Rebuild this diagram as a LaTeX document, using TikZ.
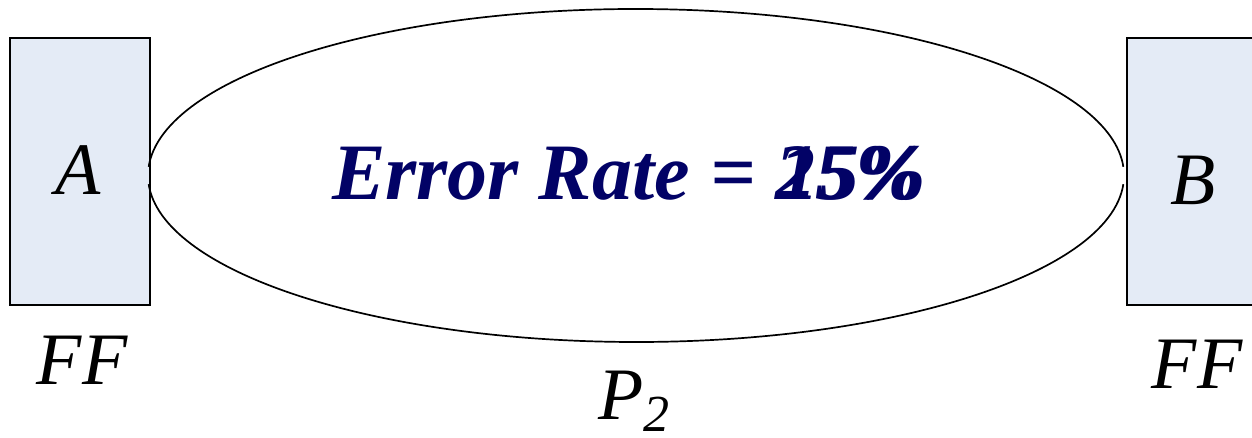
\documentclass[tikz,border=0pt]{standalone}
\usepackage{fontspec}
\setmainfont{Liberation Serif}
\begin{document}
\begin{tikzpicture}[x=1pt,y=-1pt,
  ffbox/.style={draw=black,line width=1.6pt,fill=boxfill,rectangle,minimum width=140pt,minimum height=267pt,inner sep=0pt},
  lbl/.style={anchor=base,inner sep=0pt,font=\itshape\fontsize{74}{80}\selectfont},
  err/.style={anchor=base west,inner sep=0pt,text=navyt,font=\bfseries\itshape\fontsize{80}{84}\selectfont}]
\definecolor{boxfill}{RGB}{228,235,246}
\definecolor{navyt}{RGB}{2,2,102}
\useasboundingbox (0,0) rectangle (1252,438);
\node[ffbox] (boxA) at (80,171.5) {};
\node[ffbox] (boxB) at (1197,171.5) {};
\draw[line width=1.7pt] (636,175.5) ++(3:488 and 166.5) arc[start angle=3,end angle=177,x radius=488,y radius=166.5];
\draw[line width=1.7pt] (636,175.5) ++(183:488 and 166.5) arc[start angle=183,end angle=357,x radius=488,y radius=166.5];
\node[lbl] (A) at (78,195) {A};
\node[lbl] (B) at (1193,205) {B};
\node[lbl] (ffA) at (82,384) {FF};
\node[lbl] (ffB) at (1197,388) {FF};
\node[lbl,anchor=base west] (P) at (598,419) {P\raisebox{-12pt}{\fontsize{52}{56}\selectfont 2}};
\node[err] (e1) at (332,200) {Error Rate = 25\%};
\node[err] (e2) at (336,200) {\phantom{Error Rate = }15\%};
\end{tikzpicture}
\end{document}
